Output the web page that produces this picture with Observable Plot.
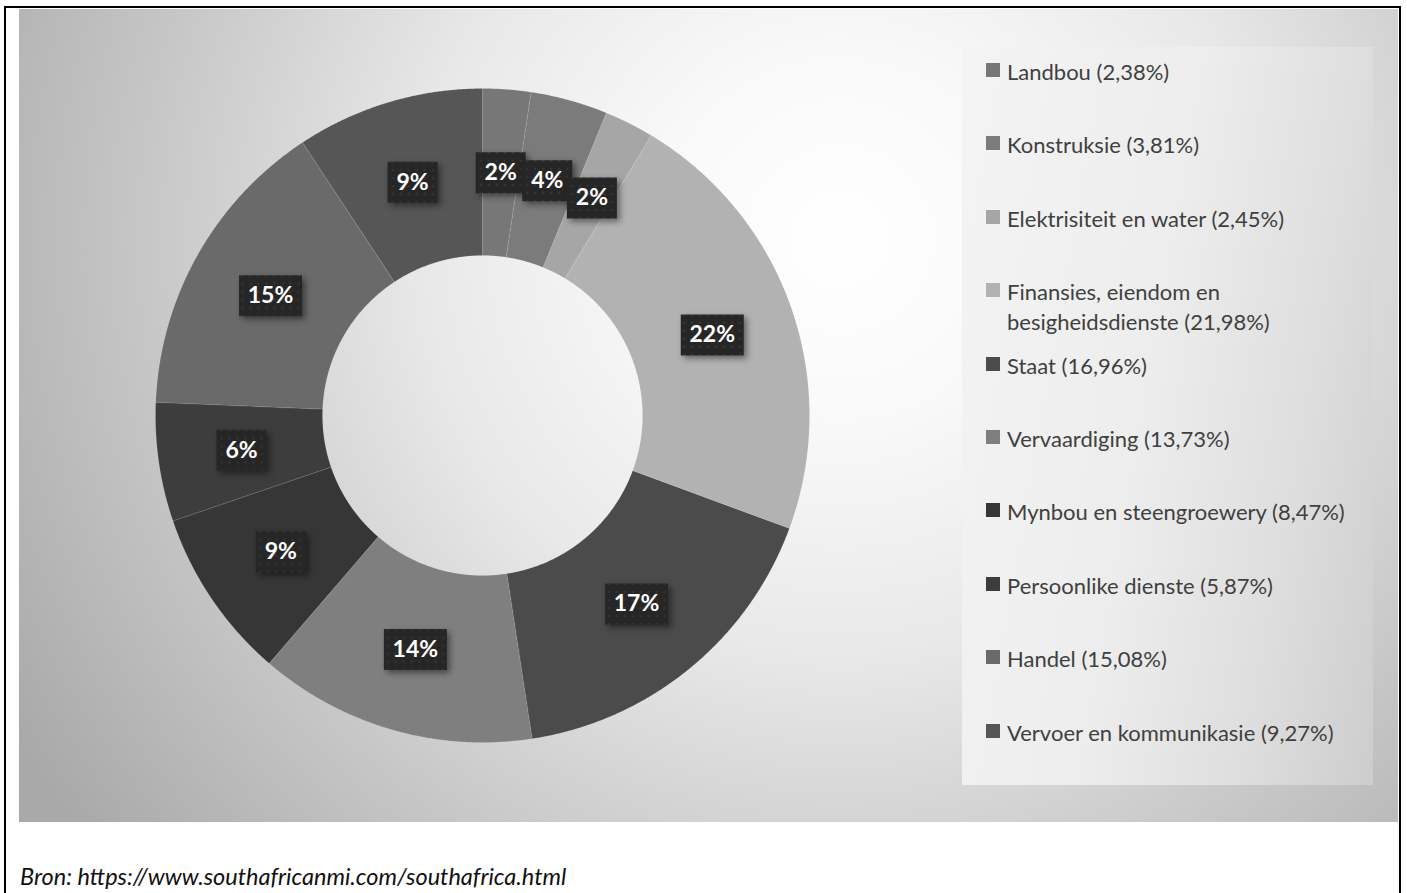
<!DOCTYPE html>
<html>
<head>
<meta charset="utf-8">
<script src="https://cdn.jsdelivr.net/npm/d3@7"></script>
<script src="https://cdn.jsdelivr.net/npm/@observablehq/plot@0.6"></script>
<style>
  html, body { margin: 0; padding: 0; background: #ffffff; }
  body { width: 1407px; height: 893px; position: relative; overflow: hidden; font-family: Lato, "Open Sans", sans-serif; }
  #frame { position: absolute; left: 4px; top: 6px; width: 1397px; height: 900px; border: 2px solid #000; border-bottom: none; box-sizing: border-box; }
  #panel { position: absolute; left: 19px; top: 9px; width: 1379px; height: 813px;
    background: radial-gradient(circle at 820px 230px, #ffffff 0px, #f9f9f9 180px, #e8e8e8 420px, #c6c6c6 700px, #a9a9a9 960px); }
  #legendbox { position: absolute; left: 962px; top: 47px; width: 411px; height: 738px;
    background: linear-gradient(100deg, #f4f4f4 0%, #ededed 45%, #dedede 75%, #cdcdcd 100%); }
  #chart { position: absolute; left: 152px; top: 85px; width: 660px; height: 660px; }
  #chart g[aria-label="dot"] path { filter: drop-shadow(3px 3px 3px rgba(0,0,0,0.45)); }
  .item { position: absolute; left: 986px; font-size: 22px; line-height: 30px; color: #404040; }
  .item .sw { position: absolute; left: 0; top: 6px; width: 14px; height: 14px; }
  .item .tx { position: absolute; left: 21px; top: 0; width: 366px; white-space: normal; }
  #caption { position: absolute; left: 20px; top: 861px; font-size: 23.5px; line-height: 30px; font-style: italic; color: #111; white-space: nowrap; }
</style>
</head>
<body>
<div id="frame"></div>
<div id="panel"></div>
<div id="legendbox"></div>
<div id="chart"></div>
<div id="legend"></div>
<div id="caption">Bron: https://www.southafricanmi.com/southafrica.html</div>
<script>
const sectors = ["Landbou", "Konstruksie", "Elektrisiteit en water", "Finansies, eiendom en besigheidsdienste", "Staat", "Vervaardiging", "Mynbou en steengroewery", "Persoonlike dienste", "Handel", "Vervoer en kommunikasie"];
const shares = [2.38, 3.81, 2.45, 21.98, 16.96, 13.73, 8.47, 5.87, 15.08, 9.27];
const dataLabels = ["2%", "4%", "2%", "22%", "17%", "14%", "9%", "6%", "15%", "9%"];
const palette = ["#777777", "#7b7b7b", "#a6a6a6", "#b2b2b2", "#4b4b4b", "#7f7f7f", "#363636", "#3d3d3d", "#6a6a6a", "#565656"];

const R_OUT = 327, R_IN = 160, R_LABEL = (R_OUT + R_IN) / 2;
const pie = d3.pie().sort(null)(shares);

const ring = [];
pie.forEach((p, i) => {
  const n = Math.max(2, Math.ceil((p.endAngle - p.startAngle) / 0.004));
  const angles = d3.range(n + 1).map(k => p.startAngle + (p.endAngle - p.startAngle) * k / n);
  angles.forEach(a => ring.push({sector: sectors[i], color: palette[i], x: R_OUT * Math.sin(a), y: R_OUT * Math.cos(a)}));
  angles.slice().reverse().forEach(a => ring.push({sector: sectors[i], color: palette[i], x: R_IN * Math.sin(a), y: R_IN * Math.cos(a)}));
});

const labels = pie.map((p, i) => {
  const m = (p.startAngle + p.endAngle) / 2;
  return {text: dataLabels[i], x: R_LABEL * Math.sin(m), y: R_LABEL * Math.cos(m)};
});

const boxSymbol = (w, h) => ({draw(ctx) { ctx.rect(-w / 2, -h / 2, w, h); }});

const plot = Plot.plot({
  width: 660, height: 660, margin: 0,
  x: {domain: [-330, 330], axis: null},
  y: {domain: [-330, 330], axis: null},
  color: {type: "identity"},
  style: {background: "transparent", overflow: "visible"},
  marks: [
    Plot.line(ring, {x: "x", y: "y", z: "sector", fill: "color", stroke: "white", strokeOpacity: 0.12, strokeWidth: 0.8, curve: "linear-closed"}),
    Plot.dot(labels.filter(d => d.text.length < 3), {x: "x", y: "y", r: 5, symbol: boxSymbol(50, 41), fill: "url(#lblDots)", stroke: "none"}),
    Plot.dot(labels.filter(d => d.text.length >= 3), {x: "x", y: "y", r: 5, symbol: boxSymbol(63, 41), fill: "url(#lblDots)", stroke: "none"}),
    Plot.text(labels, {x: "x", y: "y", text: "text", fill: "white", fontSize: 23, fontWeight: "bold", fontFamily: "Lato"})
  ]
});
plot.insertAdjacentHTML("afterbegin", '<defs><pattern id="lblDots" width="8" height="8" patternUnits="userSpaceOnUse"><rect width="8" height="8" fill="#262626"/><circle cx="4" cy="4" r="1.1" fill="#383838"/></pattern></defs>');
document.getElementById("chart").appendChild(plot);

const legend = document.getElementById("legend");
sectors.forEach((s, i) => {
  const yc = 72 + i * 73.4;
  const item = document.createElement("div");
  item.className = "item";
  item.style.top = (yc - 15) + "px";
  const sw = document.createElement("div");
  sw.className = "sw";
  sw.style.background = palette[i];
  const tx = document.createElement("div");
  tx.className = "tx";
  tx.textContent = `${s} (${shares[i].toFixed(2).replace(".", ",")}%)`;
  item.appendChild(sw);
  item.appendChild(tx);
  legend.appendChild(item);
});
</script>
</body>
</html>
